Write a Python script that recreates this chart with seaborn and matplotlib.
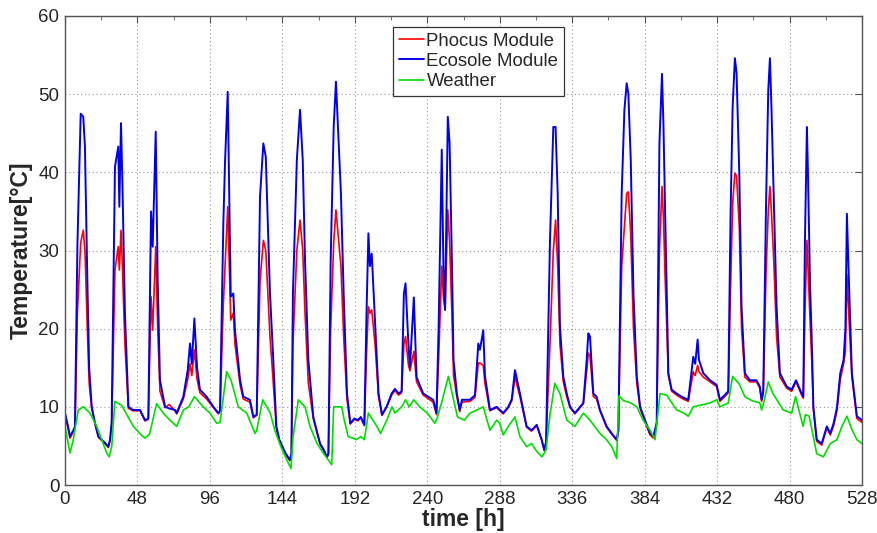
import matplotlib
matplotlib.use("Agg")
import matplotlib.pyplot as plt
import seaborn as sns
import pandas as pd
from matplotlib.ticker import MultipleLocator

# ---------------- data ----------------
hours_mod = [0, 2, 3.3, 5.5, 6.6, 8.2, 10.4, 12.1, 13.2, 14.8, 16, 17.7, 19.9, 22.1, 24.3, 26.5, 28.7, 29.8,
             30.9, 33.1, 35.3, 36, 37.1, 38, 39.7, 42, 45, 49.7, 53, 55.2, 57, 58.1, 60.1, 61.4, 62.9, 66.3,
             69, 72.9, 74, 78.4, 81.3, 82.8, 84, 85.7, 87.5, 89.4, 93.8, 98.3, 101.6, 102.7, 104.9, 106,
             107.8, 109.8, 111.5, 112.6, 116, 118.1, 122.5, 124.8, 127, 129.2, 131.4, 133, 135.8, 138, 140,
             142, 146, 149, 150, 151, 153.6, 155.7, 157.5, 159, 161.2, 164.5, 166, 169, 171.4, 173.6, 174.5,
             176, 178, 179.5, 182.8, 184.6, 186.8, 189, 191.7, 194, 196, 198.3, 199.8, 201, 202, 203.2,
             205.5, 207.7, 210, 213, 216.4, 218.6, 221, 223, 224.5, 225.6, 227.4, 228.5, 231.1, 232.9,
             237.3, 243.9, 246.1, 247.5, 249.6, 250.7, 251.8, 253.6, 254.8, 256.3, 257.4, 259.6, 261.5,
             263, 268.3, 271.6, 273.8, 274.9, 277.1, 278.2, 281.5, 286, 290.3, 293.7, 296, 298.1, 301.4,
             305.8, 309.1, 312.5, 315.8, 317.5, 318.7, 321.3, 323.5, 325, 326.4, 327.9, 330.1, 332.4,
             334.6, 337.8, 341.2, 343.4, 345.6, 346.7, 347.8, 350, 352.2, 354.4, 358.8, 362.2, 365.5,
             366.6, 368.8, 370.6, 372.1, 373.2, 374.8, 376.6, 378.8, 381, 384.3, 387.6, 389.8, 392,
             393.8, 395.5, 396.5, 397.5, 399.7, 401.9, 405.2, 408.5, 412.9, 416.2, 417.5, 419.1, 420,
             422.9, 427.3, 431.7, 433.9, 437, 439.4, 440.9, 442.3, 443.8, 444.9, 446.7, 448.2, 450.4,
             453.7, 458.1, 460.3, 461.5, 462.6, 464.4, 465.9, 467, 468, 469.7, 471.4, 473.6, 478.1,
             481.4, 484.3, 488, 489.1, 490.2, 491.5, 492.2, 493.6, 494.7, 495.8, 498, 501.3, 504.7, 507,
             509.2, 511.4, 513.6, 515.8, 517, 518, 519.2, 521.3, 524.6, 528]

ecosole = [9.2, 7.5, 6.2, 7.0, 7.5, 30.5, 47.5, 47.1, 43.3, 26.2, 15, 10.0, 7.9, 6.2, 5.8, 5.4, 4.9, 5.8,
           8, 40.7, 43.3, 35.6, 46.3, 39.0, 22.0, 10.0, 9.6, 9.6, 8.3, 8.5, 35.0, 30.5, 45.2, 26.2, 13.4, 10.0,
           9.8, 9.6, 9.2, 11.3, 14.7, 18.1, 15.5, 21.3, 15, 12.2, 11.3, 10.0, 9.2, 9.5, 33.5, 41.2,
           50.3, 24.1, 24.5, 19.8, 13.4, 11.3, 10.9, 8.7, 9.0, 36.9, 43.7, 42.0, 24.5, 16, 7.5,
           5.8, 4.1, 3.2, 4, 24.5, 41.6, 48.0, 41.6, 28.8, 16, 8.7, 7.5, 5.3, 4.5, 3.6, 4.0,
           28.8, 45.8, 51.6, 37.3, 24.5, 11.7, 7.9, 8.5, 8.3, 8.7, 7.7, 22.4, 32.2, 28.0, 29.6,
           20.3, 11.7, 9.0, 10.0, 11.7, 12.3, 11.7, 12.0, 24.5, 25.8, 18.4, 15.0, 24.0, 13.8,
           11.7, 10.9, 9.2, 20, 42.9, 28.0, 22.4, 47.1, 43.7, 28.8, 16.0, 11.7, 9.6,
           10.9, 10.9, 11.5, 18.1, 17.3, 19.8, 14.0, 9.6, 10.0, 9.2, 10.0, 11, 14.7, 11.7,
           7.5, 7.0, 7.7, 5.8, 4.5, 5.5, 31.3, 45.8, 45.8, 37.3, 20.3, 13.9, 11.7,
           10.0, 9.2, 10.0, 10.5, 16, 19.4, 19.0, 11.7, 11.3, 9.6, 7.5, 6.6, 5.8,
           7, 37.3, 48.0, 51.4, 50.1, 41.6, 24.5, 13.9, 10.0, 8.3, 6.6, 6.2, 8,
           43.7, 52.6, 45.8, 35.6, 14.3, 12.2, 11.7, 11.3, 10.9, 16.4, 15.5, 18.6, 16,
           14.3, 13.4, 12.8, 10.9, 11.5, 12, 34.3, 48.4, 54.6, 52.7, 39.9, 22.8, 14.3,
           13.4, 13.4, 12.6, 10.9, 12, 35.6, 50.5, 54.6, 48.4, 35.6, 22.8, 14.3, 12.6,
           12.2, 13.4, 11.7, 11.3, 31.3, 45.8, 39.9, 25.4, 18.6, 9.9, 5.8, 5.3, 7.5, 6.6,
           7.9, 9.9, 14.3, 16.0, 20, 34.7, 26.9, 14.3, 8.8, 8.3]

phocus = [9.0, 7.3, 6.0, 6.8, 7.3, 22, 31, 32.6, 30, 20, 13, 9.8, 7.8, 6.1, 5.7, 5.3, 4.8, 5.6,
          7.5, 27.5, 30.5, 27.5, 32.6, 28, 18, 9.8, 9.5, 9.5, 8.2, 8.4, 24.1, 19.8, 30.5, 20, 12, 9.9,
          10.3, 9.5, 9.1, 11, 13.5, 15.5, 14, 17.3, 13.5, 11.8, 11.0, 9.9, 9.1, 9.4, 23.2, 28,
          35.6, 21.1, 22, 18, 12.8, 11.0, 10.6, 8.6, 8.9, 26, 31.3, 30, 19, 13, 7.3,
          5.7, 4.0, 3.1, 3.9, 18, 30, 33.9, 30, 22, 13, 8.5, 7.4, 5.2, 4.4, 3.5, 3.9,
          20, 31, 35.2, 28, 19, 11, 7.8, 8.4, 8.2, 8.6, 7.6, 17, 22.8, 22, 22.4,
          17.8, 11.3, 8.9, 9.9, 11.5, 12.1, 11.5, 11.8, 18, 19, 15.5, 14.6, 17.1, 13.2,
          11.5, 10.6, 9.0, 16, 28.0, 24, 22.4, 35.2, 31, 22, 14, 11.3, 9.4,
          10.6, 10.7, 11.2, 15.6, 15.6, 15.3, 13, 9.5, 9.9, 9.1, 9.9, 10.8, 13.8, 11.3,
          7.4, 6.9, 7.6, 5.7, 4.4, 5.4, 18.1, 30.0, 33.9, 28, 18, 13.2, 11.3,
          9.9, 9.1, 9.9, 10.4, 14.5, 16.9, 16.5, 11.3, 11.0, 9.5, 7.4, 6.5, 5.7,
          6.8, 28, 33, 37.3, 37.5, 32, 20, 13, 9.8, 8.0, 6.4, 6.0, 7.8,
          30, 38.2, 34, 27, 14, 12.0, 11.5, 11.1, 10.7, 14.5, 14, 15.3, 14.5,
          13.8, 13.2, 12.6, 10.7, 11.3, 11.8, 25, 36, 39.9, 39.5, 33, 20, 13.8,
          13.2, 13.2, 12.4, 10.7, 11.8, 27, 35, 38.2, 35, 28, 19, 13.8, 12.4,
          12.0, 13.2, 11.5, 11.1, 22, 31.3, 28, 21, 16, 9.7, 5.6, 5.1, 7.3, 6.4,
          7.6, 9.5, 13.5, 15.5, 17, 26.9, 22, 13.8, 8.5, 8.0]

hours_weather = [0, 3.3, 5.5, 8.8, 12.1, 16.6, 21, 24.3, 27.6, 29.4, 31, 33, 37.5, 41, 45.3, 50, 53, 56,
                 60.7, 65.1, 69.5, 74, 78.4, 82, 85.7, 91.6, 96, 100.5, 102.7, 107.1, 110, 114.8, 120.4,
                 125.9, 127, 131, 136, 139, 143, 147, 149.7, 151, 154.6, 159, 162.3, 167, 171, 176.7,
                 178, 183.3, 185, 187.6, 193.1, 196, 198.3, 201, 206.6, 209, 213.2, 216.6, 218.6, 223,
                 225.6, 228, 231, 235, 240, 245, 246.5, 250, 254, 256.5, 260, 264.6, 268.3, 272, 277.1,
                 281.5, 286, 288, 290.3, 293.7, 298.1, 301.4, 305.8, 309.1, 312.5, 316, 318.7, 321.3,
                 324.5, 327.9, 332.4, 337.8, 343.4, 347.8, 354.4, 358.8, 362.2, 365.5, 367, 370, 374.8,
                 378.8, 383, 387.6, 390.9, 394.2, 398.6, 405.2, 410, 412.9, 416.2, 422.9, 427.3, 431.7,
                 433.9, 439.4, 442.3, 446.7, 450.4, 455, 460.3, 461.5, 463.5, 465.9, 469, 475.8, 481.4,
                 484, 486.7, 489, 490.5, 493, 498, 502.4, 507, 511.4, 514.7, 518, 521.3, 524.6, 528]

weather = [7.5, 4.1, 5.8, 9.6, 10.0, 9.2, 7.5, 5.8, 4.1, 3.6, 5, 10.7, 10.2, 9, 7.5, 6.5, 6.0, 6.5,
           10.4, 9.2, 8.3, 7.5, 9.6, 10, 11.3, 10.0, 9.2, 7.9, 8, 14.5, 13.4, 10.0, 9.2,
           6.6, 7, 10.9, 9.2, 7.0, 4.9, 3.2, 2.1, 6, 10.9, 10.0, 7.5, 5.3, 4.1, 2.6,
           10.0, 10.0, 8.3, 6.2, 5.8, 6.2, 5.8, 9.2, 7.5, 6.6, 8.3, 10.0, 9.2, 10.0,
           10.9, 10.0, 10.9, 10.0, 9.2, 7.9, 8.5, 10.9, 13.9, 11.7, 8.7, 8.3, 9.2, 9.5, 10.0,
           7.0, 8.3, 7.9, 6.4, 7.5, 8.7, 6.2, 4.9, 5.3, 4.3, 3.6, 4.5, 9,
           13.0, 11.7, 8.3, 7.5, 9.2, 8.3, 6.6, 5.8, 4.9, 3.4, 11.4, 10.8, 10.5,
           10.0, 8.3, 7.0, 5.8, 11.7, 11.5, 9.6, 9.2, 8.8, 10.0, 10.3, 10.5, 10.9,
           10.0, 10.5, 13.9, 12.9, 11.3, 10.8, 10.5, 9.6, 11, 13.2, 11.7, 9.6, 9.2,
           11.3, 9.2, 7.5, 9, 8.8, 4.0, 3.6, 5.3, 5.8, 7.5, 8.8, 7.1, 5.8, 5.3]

series_names = ["Phocus Module", "Ecosole Module", "Weather"]
x_ticks = list(range(0, 529, 48))
y_ticks = list(range(0, 61, 10))

# ---------------- plot ----------------
sns.set_style("white")
plt.rcParams["font.family"] = ["Liberation Sans", "DejaVu Sans"]

fig = plt.figure(figsize=(8.77, 5.33), dpi=100)
ax = fig.add_axes([65 / 877, 1 - 485 / 533, 797 / 877, 469 / 533])

df_mod = pd.DataFrame({"h": hours_mod, "phocus": phocus, "ecosole": ecosole})
df_w = pd.DataFrame({"h": hours_weather, "weather": weather})

sns.lineplot(data=df_mod, x="h", y="phocus", ax=ax, color="#ff0000", linewidth=1.2,
             label=series_names[0], estimator=None, sort=True)
sns.lineplot(data=df_mod, x="h", y="ecosole", ax=ax, color="#0000ee", linewidth=1.4,
             label=series_names[1], estimator=None, sort=True)
sns.lineplot(data=df_w, x="h", y="weather", ax=ax, color="#00dd00", linewidth=1.2,
             label=series_names[2], estimator=None, sort=True)

ax.set_xlim(0, 528)
ax.set_ylim(0, 60)
ax.set_xticks(x_ticks)
ax.set_yticks(y_ticks)
ax.xaxis.set_minor_locator(MultipleLocator(24))
ax.tick_params(axis="both", which="both", direction="in", top=True, right=True,
               labelsize=13.5, color="#555555", pad=4)
ax.tick_params(axis="both", which="major", length=5)
ax.tick_params(axis="x", which="minor", length=3)
ax.grid(True, which="major", linestyle=(0, (1, 2.5)), color="#999999", linewidth=0.8)
for s in ax.spines.values():
    s.set_color("#555555")
    s.set_linewidth(1.0)

ax.set_xlabel("time [h]", fontsize=16.5, fontweight="bold", labelpad=0)
ax.set_ylabel("Temperature[°C]", fontsize=16.5, fontweight="bold", labelpad=4)

leg = ax.legend(loc="upper left", bbox_to_anchor=(0.4115, 0.9765), borderaxespad=0,
                fontsize=13.4, frameon=True, fancybox=False, handlelength=1.35,
                handletextpad=0.15, labelspacing=0.18, borderpad=0.3, framealpha=1)
leg.get_frame().set_edgecolor("#333333")
leg.get_frame().set_linewidth(0.9)

fig.savefig("out.png", dpi=100)
